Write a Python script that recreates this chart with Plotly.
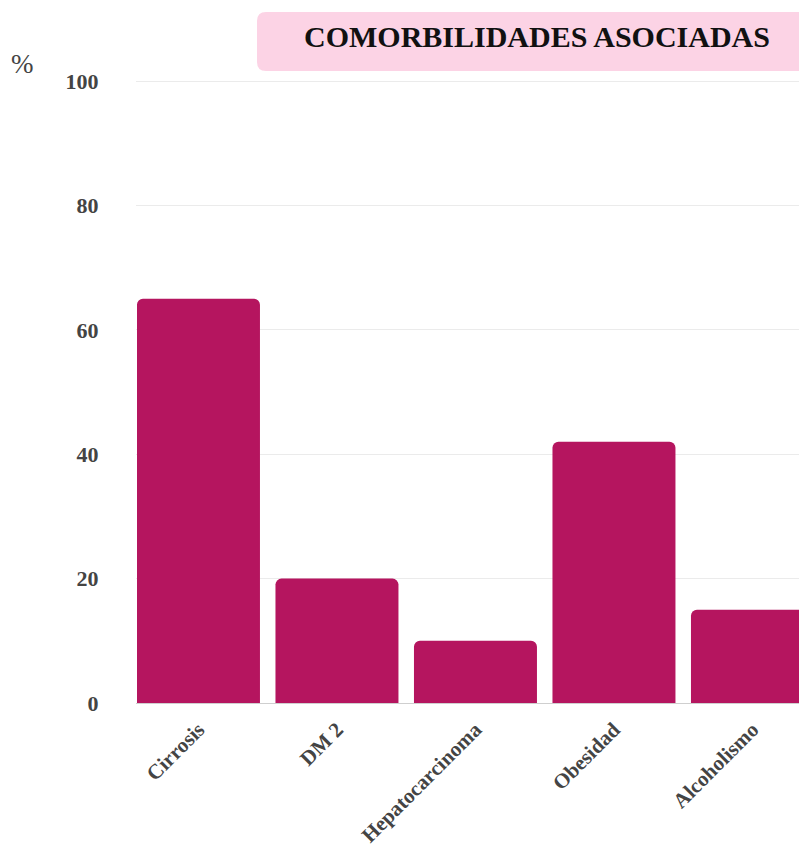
import plotly.graph_objects as go

categories = ["Cirrosis", "DM 2", "Hepatocarcinoma", "Obesidad", "Alcoholismo"]
values = [65, 20, 10, 42, 15]
y_ticks = [0, 20, 40, 60, 80, 100]
title_text = "COMORBILIDADES ASOCIADAS"
unit_text = "%"

BAR_COLOR = "#B5155F"
SERIF = "Liberation Serif, Times New Roman, serif"

fig = go.Figure(go.Bar(
    x=categories, y=values,
    marker=dict(color=BAR_COLOR, cornerradius=6, line=dict(width=0)),
    width=0.888,
    hoverinfo="skip",
))

# page has an 8px body margin; figure coords = page coords - 8
W, H = 799, 845
ml, mr, mt, mb = 128, 0, 70, 150
pw = W - ml - mr
ph = H - mt - mb

def px_x(p):
    return (p - 8 - ml) / pw

def px_y(p):
    return (H - mb - (p - 8)) / ph

# rounded title box
x0, x1 = px_x(257), px_x(840)
y0, y1 = px_y(71), px_y(12)
rx, ry = 9 / pw, 9 / ph
path = (f"M {x0+rx},{y1} L {x1-rx},{y1} Q {x1},{y1} {x1},{y1-ry} "
        f"L {x1},{y0+ry} Q {x1},{y0} {x1-rx},{y0} L {x0+rx},{y0} "
        f"Q {x0},{y0} {x0},{y0+ry} L {x0},{y1-ry} Q {x0},{y1} {x0+rx},{y1} Z")

pitch = 138.5
fig.update_layout(
    width=W, height=H,
    margin=dict(l=ml, r=mr, t=mt, b=mb, autoexpand=False),
    paper_bgcolor="white", plot_bgcolor="white",
    showlegend=False,
    shapes=[dict(type="path", path=path, xref="paper", yref="paper",
                 fillcolor="#FCD3E5", line=dict(width=0), layer="below")],
    annotations=[
        dict(text=title_text, xref="paper", yref="paper",
             x=px_x(537), y=px_y(36), showarrow=False,
             xanchor="center", yanchor="middle",
             font=dict(family=SERIF, size=30, color="#111111", weight="bold")),
        dict(text=unit_text, xref="paper", yref="paper",
             x=px_x(23), y=px_y(64), showarrow=False,
             xanchor="center", yanchor="middle",
             font=dict(family=SERIF, size=27, color="#444444")),
    ],
    xaxis=dict(
        range=[-0.451, -0.451 + pw / pitch],
        tickangle=-45,
        tickfont=dict(family=SERIF, size=21, color="#444444", weight="bold"),
        showgrid=False, showline=False,
        ticks="outside", ticklen=5, tickcolor="rgba(0,0,0,0)",
        automargin=False, fixedrange=True,
    ),
    yaxis=dict(
        range=[0, 100.5],
        tickvals=y_ticks,
        tickfont=dict(family=SERIF, size=22, color="#444444", weight="bold"),
        showgrid=True, gridcolor="#EBEBEB", gridwidth=1,
        zeroline=True, zerolinecolor="#CFCFCF", zerolinewidth=1,
        ticks="outside", ticklen=32, tickcolor="rgba(0,0,0,0)",
        showline=False, automargin=False, fixedrange=True,
    ),
)

fig.write_html("out.html")
